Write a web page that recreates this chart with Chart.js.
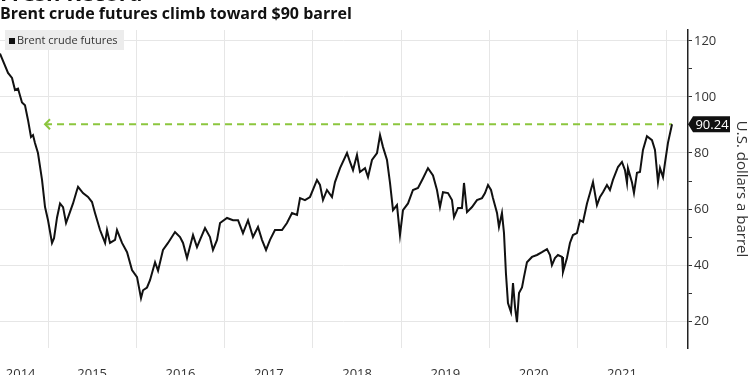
<!DOCTYPE html>
<html>
<head>
<meta charset="utf-8">
<script src="https://cdn.jsdelivr.net/npm/chart.js@4/dist/chart.umd.min.js"></script>
<style>
  html, body { margin: 0; padding: 0; background: #fff; overflow: hidden; }
  #wrap { position: relative; width: 750px; height: 375px; overflow: hidden; font-family: "Open Sans", sans-serif; }
  #kicker { position: absolute; left: 0; top: -23px; font: 700 22px "Open Sans", sans-serif; color: #111; white-space: nowrap; }
  #title { position: absolute; left: 0; top: 2px; font: 700 16px "Open Sans", sans-serif; color: #111; white-space: nowrap; }
  #legend { position: absolute; left: 5px; top: 30px; height: 20px; padding: 0 6px 0 4px; background: #ececec;
    font: 11px "Open Sans", sans-serif; color: #333; line-height: 20px; white-space: nowrap; }
  #legend span { display: inline-block; width: 6px; height: 6px; background: #111; margin-right: 2px; vertical-align: 0; }
  canvas { position: absolute; left: 0; top: 0; }
</style>
</head>
<body>
<div id="wrap">
  <canvas id="brentChart" width="750" height="375"></canvas>
  <div id="kicker">Fresh Record</div>
  <div id="title">Brent crude futures climb toward $90 barrel</div>
  <div id="legend"><span></span>Brent crude futures</div>
</div>
<script>
'use strict';

//--------> Data <--------
// positions in decimal years, prices in U.S. dollars a barrel
const years = [2014.456, 2014.547, 2014.592, 2014.626, 2014.660, 2014.705, 2014.739, 2014.773, 2014.807, 2014.830,
  2014.852, 2014.886, 2014.932, 2014.966, 2015.000, 2015.045, 2015.068, 2015.102, 2015.136, 2015.170,
  2015.204, 2015.249, 2015.283, 2015.328, 2015.340, 2015.396, 2015.453, 2015.498, 2015.532, 2015.589,
  2015.646, 2015.668, 2015.702, 2015.759, 2015.781, 2015.838, 2015.895, 2015.951, 2016.008, 2016.053,
  2016.076, 2016.121, 2016.155, 2016.212, 2016.246, 2016.302, 2016.359, 2016.438, 2016.495, 2016.529,
  2016.574, 2016.642, 2016.687, 2016.721, 2016.778, 2016.834, 2016.868, 2016.914, 2016.948, 2017.027,
  2017.095, 2017.152, 2017.208, 2017.265, 2017.321, 2017.378, 2017.423, 2017.469, 2017.514, 2017.570,
  2017.650, 2017.706, 2017.763, 2017.820, 2017.854, 2017.910, 2017.967, 2018.046, 2018.080, 2018.114,
  2018.159, 2018.216, 2018.250, 2018.307, 2018.386, 2018.420, 2018.454, 2018.499, 2018.533, 2018.590,
  2018.624, 2018.669, 2018.726, 2018.760, 2018.794, 2018.839, 2018.873, 2018.907, 2018.952, 2018.986,
  2019.020, 2019.077, 2019.133, 2019.190, 2019.247, 2019.303, 2019.360, 2019.405, 2019.439, 2019.473,
  2019.530, 2019.575, 2019.598, 2019.643, 2019.688, 2019.711, 2019.745, 2019.802, 2019.858, 2019.915,
  2019.949, 2019.983, 2020.017, 2020.039, 2020.085, 2020.107, 2020.141, 2020.164, 2020.186, 2020.209,
  2020.243, 2020.266, 2020.289, 2020.311, 2020.334, 2020.368, 2020.390, 2020.424, 2020.481, 2020.538,
  2020.594, 2020.651, 2020.685, 2020.707, 2020.741, 2020.775, 2020.821, 2020.832, 2020.877, 2020.911,
  2020.945, 2020.990, 2021.025, 2021.059, 2021.104, 2021.138, 2021.172, 2021.217, 2021.251, 2021.285,
  2021.330, 2021.364, 2021.398, 2021.455, 2021.500, 2021.534, 2021.557, 2021.568, 2021.613, 2021.636,
  2021.670, 2021.704, 2021.738, 2021.783, 2021.840, 2021.874, 2021.908, 2021.931, 2021.965, 2021.987,
  2022.021, 2022.067];
const prices = [115.5, 108.6, 106.8, 102.5, 103.0, 98.0, 97.0, 91.8, 85.7, 86.4,
  83.6, 80.0, 70.4, 60.7, 56.0, 47.9, 49.6, 57.0, 62.0, 60.7,
  55.0, 59.0, 62.0, 66.8, 67.9, 65.7, 64.3, 62.5, 58.6, 52.5,
  47.9, 52.5, 47.9, 49.0, 52.5, 47.9, 44.6, 38.2, 35.7, 28.2,
  31.0, 32.0, 34.6, 41.0, 38.0, 45.4, 47.9, 51.8, 50.0, 47.9,
  42.5, 50.7, 46.4, 49.0, 53.2, 50.0, 45.4, 49.0, 55.0, 56.8,
  56.0, 56.0, 51.4, 56.0, 50.0, 53.6, 49.0, 45.4, 49.0, 52.5,
  52.5, 55.0, 58.6, 57.9, 63.9, 63.2, 64.3, 70.4, 68.6, 63.2,
  66.8, 64.3, 69.6, 74.6, 80.0, 76.8, 73.9, 79.3, 73.2, 74.6,
  71.4, 77.5, 80.0, 86.4, 82.1, 77.5, 69.3, 59.6, 61.4, 50.7,
  59.6, 62.0, 66.8, 67.5, 71.0, 74.6, 72.0, 66.8, 60.7, 66.0,
  65.7, 63.2, 57.1, 60.4, 60.4, 69.3, 58.9, 60.7, 63.2, 63.9,
  65.7, 68.6, 66.8, 63.9, 58.6, 53.6, 58.6, 51.4, 37.1, 26.4,
  23.2, 33.6, 25.0, 19.6, 30.0, 32.0, 35.7, 41.0, 42.9, 43.6,
  44.6, 45.7, 43.6, 40.0, 42.5, 43.6, 42.9, 37.5, 42.5, 47.9,
  50.7, 51.4, 56.0, 55.4, 62.0, 65.7, 69.6, 61.4, 64.3, 66.0,
  68.6, 66.8, 70.4, 75.0, 76.8, 73.9, 69.3, 74.6, 69.6, 65.7,
  72.9, 73.2, 81.1, 86.0, 84.6, 81.1, 69.6, 74.6, 71.4, 76.4,
  83.6, 90.24];

const gridYears = [2015, 2016, 2017, 2018, 2019, 2020, 2021, 2022];
const labelYears = [2014.69, 2015.5, 2016.5, 2017.5, 2018.5, 2019.5, 2020.5, 2021.5];
const yTicks = [20, 30, 40, 50, 60, 70, 80, 90, 100, 110, 120];
const lastPrice = 90.24;
const arrowFrom = 2014.966; // where the dashed guide starts

//--------> Plugin: arrow head + price tag <--------
const guidePlugin = {
  id: 'guide',
  afterDatasetsDraw (chart) {
    const ctx = chart.ctx;
    const x = chart.scales.x.getPixelForValue(arrowFrom);
    const y = chart.scales.y.getPixelForValue(lastPrice);
    ctx.save();
    ctx.strokeStyle = '#8cc63e';
    ctx.lineWidth = 2;
    ctx.beginPath();
    ctx.moveTo(x + 5, y - 5);
    ctx.lineTo(x, y);
    ctx.lineTo(x + 5, y + 5);
    ctx.stroke();
    ctx.restore();
  },
  afterDraw (chart) {
    const ctx = chart.ctx;
    const x0 = chart.chartArea.right;
    const y = chart.scales.y.getPixelForValue(lastPrice);
    ctx.save();
    ctx.fillStyle = '#111';
    ctx.beginPath();
    ctx.moveTo(x0, y);
    ctx.lineTo(x0 + 5, y - 8);
    ctx.lineTo(x0 + 42, y - 8);
    ctx.lineTo(x0 + 42, y + 8);
    ctx.lineTo(x0 + 5, y + 8);
    ctx.closePath();
    ctx.fill();
    ctx.fillStyle = '#fff';
    ctx.font = '13px "Open Sans", sans-serif';
    ctx.textAlign = 'center';
    ctx.textBaseline = 'middle';
    ctx.fillText(lastPrice.toFixed(2), x0 + 24, y + 1);
    ctx.restore();
  }
};

//--------> Chart <--------
const ctx = document.getElementById('brentChart').getContext('2d');
new Chart(ctx, {
  type: 'line',
  data: {
    datasets: [{
      label: 'Brent crude futures',
      data: years.map((t, i) => ({ x: t, y: prices[i] })),
      borderColor: '#111',
      borderWidth: 2,
      pointRadius: 0,
      tension: 0
    }, {
      label: 'guide',
      data: [{ x: arrowFrom, y: lastPrice }, { x: years[years.length - 1], y: lastPrice }],
      borderColor: '#8cc63e',
      borderWidth: 2,
      borderDash: [7, 5],
      pointRadius: 0
    }]
  },
  options: {
    responsive: false,
    animation: false,
    layout: { padding: { top: 30, left: 0, right: 0, bottom: 0 } },
    plugins: { legend: { display: false }, tooltip: { enabled: false } },
    scales: {
      x: {
        type: 'linear',
        min: 2014.456,
        max: 2022.248,
        border: { display: false },
        grid: {
          drawTicks: true,
          tickLength: 16,
          tickColor: 'rgba(0,0,0,0)',
          color: (c) => Number.isInteger(c.tick.value) ? '#e6e6e6' : 'rgba(0,0,0,0)'
        },
        ticks: {
          autoSkip: false,
          maxRotation: 0,
          padding: 2,
          color: '#333',
          font: { family: 'Open Sans', size: 13 },
          callback: (v) => Number.isInteger(v) ? '' : String(Math.floor(v))
        },
        afterBuildTicks: (scale) => {
          scale.ticks = gridYears.concat(labelYears).sort((a, b) => a - b).map(v => ({ value: v }));
        },
        afterFit: (scale) => { scale.height = 27; }
      },
      y: {
        position: 'right',
        min: 10.4,
        max: 123.9,
        border: { display: true, color: '#222', width: 1.5 },
        grid: {
          tickLength: 4,
          tickColor: '#333',
          color: (c) => c.tick.value % 20 === 0 ? '#e6e6e6' : 'rgba(0,0,0,0)'
        },
        ticks: {
          padding: 2,
          color: '#333',
          font: { family: 'Open Sans', size: 13 },
          callback: (v) => v % 20 === 0 ? String(v) : ''
        },
        title: {
          display: true,
          text: 'U.S. dollars a barrel',
          color: '#333',
          font: { family: 'Open Sans', size: 15 },
          padding: { top: 0, bottom: 4 }
        },
        afterBuildTicks: (scale) => {
          scale.ticks = yTicks.map(v => ({ value: v }));
        },
        afterFit: (scale) => { scale.width = 62; }
      }
    }
  },
  plugins: [guidePlugin]
});
</script>
</body>
</html>
